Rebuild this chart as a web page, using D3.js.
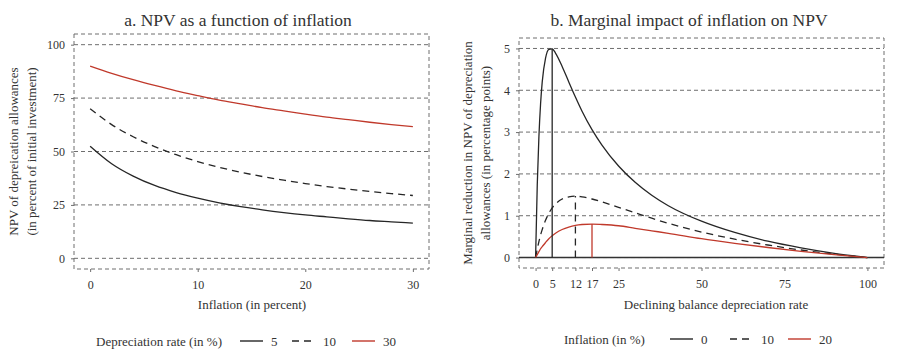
<!DOCTYPE html>
<html>
<head>
<meta charset="utf-8">
<script src="https://cdn.jsdelivr.net/npm/d3@7"></script>
<style>
  body { margin: 0; background: #fff; }
  svg text { font-family: "Liberation Serif", "Times New Roman", "DejaVu Serif", serif; }
</style>
</head>
<body>
<svg id="chart" width="900" height="364"></svg>
<script>
// panel a: NPV (% of investment) by inflation, one series per depreciation rate
const inflationA = [0, 2, 4, 6, 8, 10, 12, 14, 16, 18, 20, 22, 24, 26, 28, 30];
const npvRate5 = [52.5, 44.3, 38.5, 34.1, 30.8, 28.2, 26.0, 24.2, 22.7, 21.4, 20.3, 19.4, 18.5, 17.7, 17.1, 16.5];
const npvRate10 = [70.0, 62.6, 56.9, 52.3, 48.5, 45.3, 42.6, 40.3, 38.3, 36.6, 35.0, 33.6, 32.4, 31.3, 30.3, 29.4];
const npvRate30 = [90.0, 86.6, 83.6, 80.9, 78.4, 76.2, 74.1, 72.3, 70.5, 69.0, 67.5, 66.1, 64.9, 63.7, 62.6, 61.6];
const yTicksA = [0, 25, 50, 75, 100];
const xTicksA = [0, 10, 20, 30];

// panel b: marginal reduction in NPV by depreciation rate, one series per inflation rate
const rateB = [0, 0.5, 1, 1.5, 2, 3, 4, 5, 6, 8, 10, 12, 14, 17, 20, 25, 30, 35, 40, 50, 60, 70, 80, 90, 100];
const impactInfl0 = [0, 1.73, 2.89, 3.67, 4.20, 4.77, 4.98, 4.99, 4.89, 4.57, 4.20, 3.84, 3.50, 3.06, 2.69, 2.19, 1.80, 1.49, 1.24, 0.87, 0.60, 0.39, 0.23, 0.10, 0];
const impactInfl10 = [0, 0.20, 0.38, 0.54, 0.67, 0.89, 1.06, 1.19, 1.28, 1.40, 1.45, 1.47, 1.45, 1.40, 1.33, 1.20, 1.07, 0.94, 0.82, 0.61, 0.44, 0.30, 0.18, 0.08, 0];
const impactInfl20 = [0, 0.07, 0.14, 0.21, 0.26, 0.36, 0.45, 0.52, 0.58, 0.67, 0.73, 0.77, 0.79, 0.80, 0.79, 0.76, 0.70, 0.64, 0.58, 0.45, 0.34, 0.24, 0.15, 0.07, 0];
const peakRates = [5, 12, 17];
const peakValues = [4.99, 1.47, 0.80];
const yTicksB = [0, 1, 2, 3, 4, 5];
const xTicksB = [0, 5, 12, 17, 25, 50, 75, 100];

const black = '#262626';
const red = '#c0392b';
const gridColor = '#6e6e6e';
const textColor = '#333';
const serif = '"Liberation Serif", "Times New Roman", "DejaVu Serif", serif';

const svg = d3.select('#chart');

function addText(parent, size) {
    return parent.append('text')
        .attr('fill', textColor)
        .style('font-family', serif)
        .style('font-size', size + 'px');
}

function drawPanel(p) {
    const g = svg.append('g');
    const x = d3.scaleLinear().domain(p.xDomain).range([p.left, p.right]);
    const y = d3.scaleLinear().domain(p.yDomain).range([p.bottom, p.top]);

    // horizontal dashed grid
    g.selectAll('.grid')
        .data(p.yTicks)
        .enter()
        .append('line')
        .attr('x1', p.left)
        .attr('x2', p.right)
        .attr('y1', d => y(d))
        .attr('y2', d => y(d))
        .attr('stroke', gridColor)
        .attr('stroke-width', 1)
        .attr('stroke-dasharray', '4,3');

    // dashed panel border
    g.append('rect')
        .attr('x', p.left)
        .attr('y', p.top)
        .attr('width', p.right - p.left)
        .attr('height', p.bottom - p.top)
        .attr('fill', 'none')
        .attr('stroke', gridColor)
        .attr('stroke-width', 1)
        .attr('stroke-dasharray', '4,3');

    // axes: short ticks outside the border
    const yAxis = g.append('g')
        .attr('transform', `translate(${p.left},0)`)
        .call(d3.axisLeft(y).tickValues(p.yTicks).tickFormat(d3.format('d')).tickSize(3).tickPadding(6));
    const xAxis = g.append('g')
        .attr('transform', `translate(0,${p.bottom})`)
        .call(d3.axisBottom(x).tickValues(p.xTicks).tickFormat(d3.format('d')).tickSize(3).tickPadding(8));
    [yAxis, xAxis].forEach(ax => {
        ax.attr('font-family', serif).attr('font-size', 12);
        ax.select('.domain').remove();
        ax.selectAll('line').attr('stroke', gridColor);
        ax.selectAll('text')
            .attr('fill', textColor)
            .style('font-family', serif)
            .style('font-size', '12px');
    });

    // titles
    addText(g, 17.5)
        .attr('x', p.titleX)
        .attr('y', 26)
        .attr('text-anchor', 'middle')
        .text(p.title);

    addText(g, 13)
        .attr('x', p.xLabelX)
        .attr('y', 309)
        .attr('text-anchor', 'middle')
        .text(p.xLabel);

    const cy = (p.top + p.bottom) / 2;
    p.yLabel.forEach((line, i) => {
        addText(g, 13)
            .attr('transform', `translate(${p.yLabelX[i]},${cy}) rotate(-90)`)
            .attr('text-anchor', 'middle')
            .attr('dy', '0.35em')
            .text(line);
    });

    return { g, x, y };
}

// ---------- panel a ----------
const a = drawPanel({
    left: 74, right: 429, top: 34, bottom: 269,
    xDomain: [-1.5, 31.5], yDomain: [-5, 105],
    xTicks: xTicksA, yTicks: yTicksA,
    title: 'a. NPV as a function of inflation', titleX: 238,
    xLabel: 'Inflation (in percent)', xLabelX: 252,
    yLabel: ['NPV of depreication allowances', '(in percent of initial investment)'],
    yLabelX: [13, 31]
});

const seriesA = [
    { values: npvRate5, color: black, dash: null },
    { values: npvRate10, color: black, dash: '7,5' },
    { values: npvRate30, color: red, dash: null }
];

const lineA = d3.line()
    .x((d, i) => a.x(inflationA[i]))
    .y(d => a.y(d))
    .curve(d3.curveMonotoneX);

a.g.selectAll('.seriesA')
    .data(seriesA)
    .enter()
    .append('path')
    .attr('d', d => lineA(d.values))
    .attr('fill', 'none')
    .attr('stroke', d => d.color)
    .attr('stroke-width', 1.3)
    .attr('stroke-dasharray', d => d.dash);

// ---------- panel b ----------
const b = drawPanel({
    left: 519, right: 884, top: 38, bottom: 268,
    xDomain: [-5, 105], yDomain: [-0.25, 5.25],
    xTicks: xTicksB, yTicks: yTicksB,
    title: 'b. Marginal impact of inflation on NPV', titleX: 689,
    xLabel: 'Declining balance depreciation rate', xLabelX: 716,
    yLabel: ['Marginal reduction in NPV of depreciation', 'allowances (in percentage points)'],
    yLabelX: [467, 485]
});

// solid zero line
b.g.append('line')
    .attr('x1', 519)
    .attr('x2', 884)
    .attr('y1', b.y(0))
    .attr('y2', b.y(0))
    .attr('stroke', '#333')
    .attr('stroke-width', 1.4);

const seriesB = [
    { values: impactInfl0, color: black, dash: null },
    { values: impactInfl10, color: black, dash: '7,5' },
    { values: impactInfl20, color: red, dash: null }
];

const lineB = d3.line()
    .x((d, i) => b.x(rateB[i]))
    .y(d => b.y(d))
    .curve(d3.curveMonotoneX);

b.g.selectAll('.seriesB')
    .data(seriesB)
    .enter()
    .append('path')
    .attr('d', d => lineB(d.values))
    .attr('fill', 'none')
    .attr('stroke', d => d.color)
    .attr('stroke-width', 1.3)
    .attr('stroke-dasharray', d => d.dash);

// vertical markers at the peak of each curve
b.g.selectAll('.peak')
    .data(peakRates)
    .enter()
    .append('line')
    .attr('x1', d => b.x(d))
    .attr('x2', d => b.x(d))
    .attr('y1', b.y(0))
    .attr('y2', (d, i) => b.y(peakValues[i]))
    .attr('stroke', (d, i) => seriesB[i].color)
    .attr('stroke-width', 1.3)
    .attr('stroke-dasharray', (d, i) => seriesB[i].dash);

// ---------- legends ----------
function drawLegend(title, titleX, keys, cy) {
    const lg = svg.append('g');
    addText(lg, 13)
        .attr('x', titleX)
        .attr('y', cy)
        .attr('dy', '0.35em')
        .text(title);
    keys.forEach(k => {
        lg.append('line')
            .attr('x1', k.x)
            .attr('x2', k.x + 23)
            .attr('y1', cy)
            .attr('y2', cy)
            .attr('stroke', k.color)
            .attr('stroke-width', 1.4)
            .attr('stroke-dasharray', k.dash);
        addText(lg, 13)
            .attr('x', k.x + 31)
            .attr('y', cy)
            .attr('dy', '0.35em')
            .text(k.label);
    });
}

drawLegend('Depreciation rate (in %)', 96, [
    { x: 240, label: '5', color: black, dash: null },
    { x: 292, label: '10', color: black, dash: '7,5' },
    { x: 352, label: '30', color: red, dash: null }
], 341);

drawLegend('Inflation (in %)', 564, [
    { x: 670, label: '0', color: black, dash: null },
    { x: 730, label: '10', color: black, dash: '7,5' },
    { x: 788, label: '20', color: red, dash: null }
], 339);
</script>
</body>
</html>
